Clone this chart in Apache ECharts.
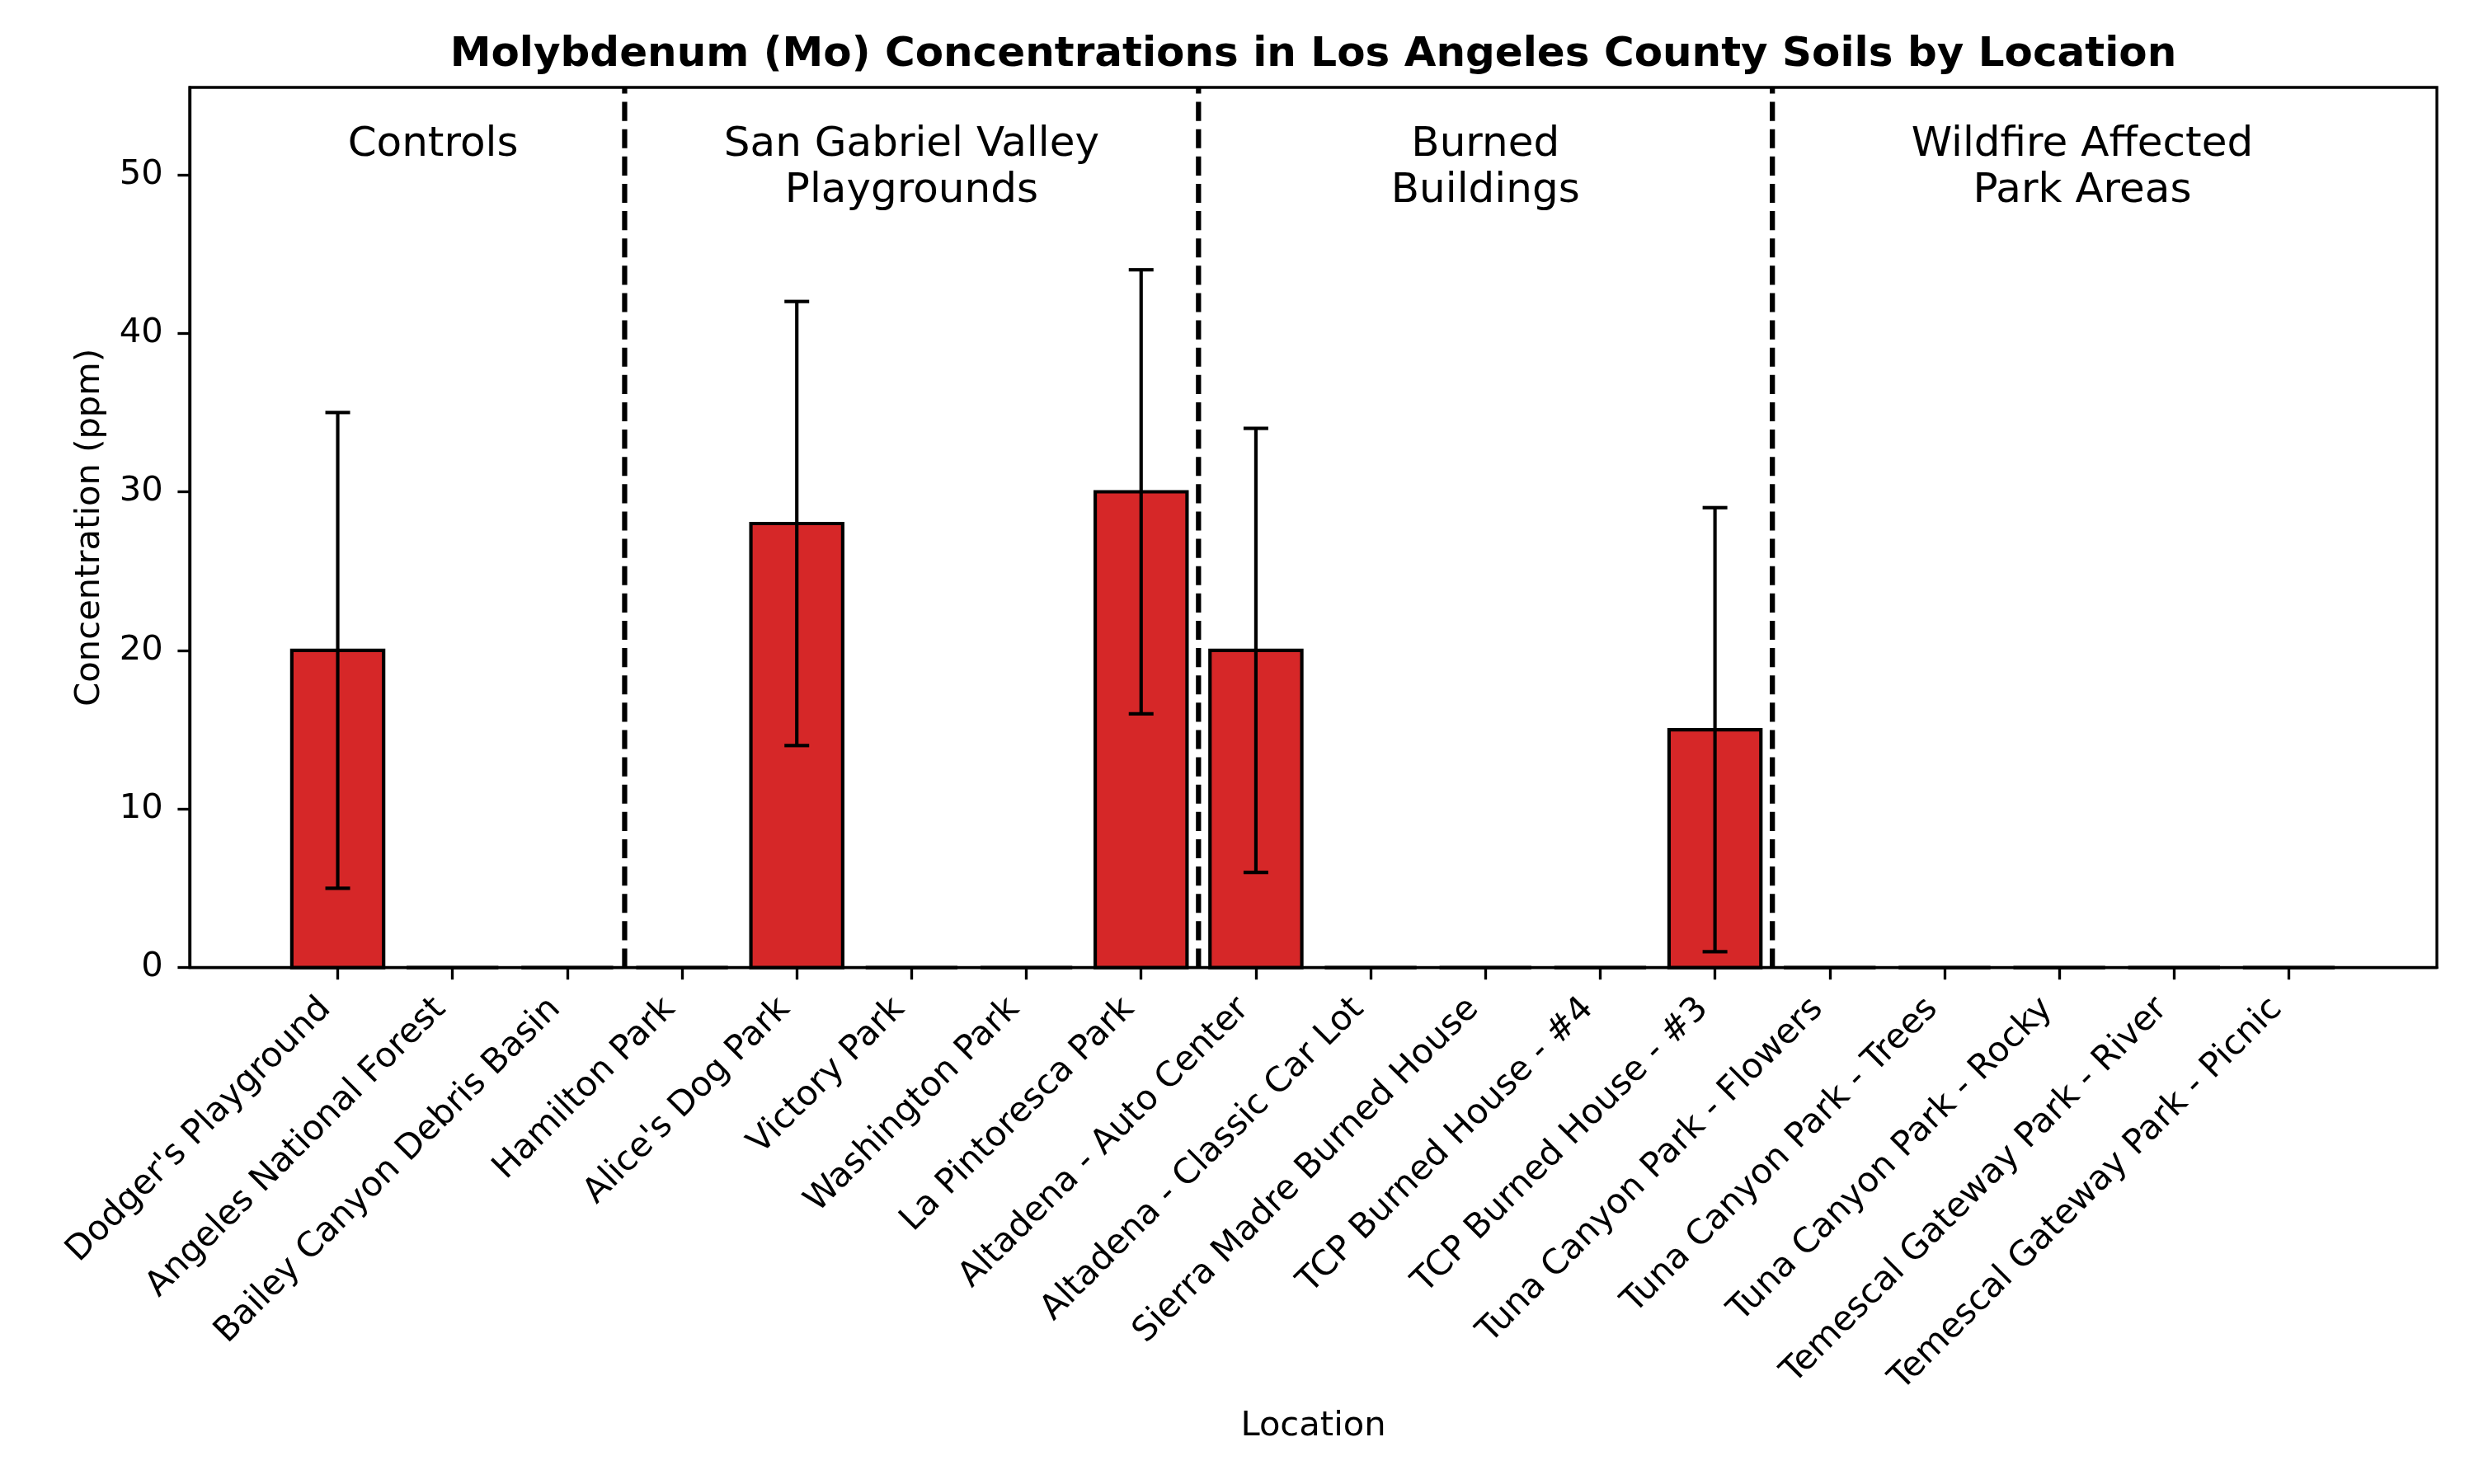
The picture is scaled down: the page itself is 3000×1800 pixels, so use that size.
<!DOCTYPE html>
<html>
<head>
<meta charset="utf-8">
<script src="https://cdn.jsdelivr.net/npm/echarts@6/dist/echarts.min.js"></script>
<style>
  html, body { margin: 0; padding: 0; background: #fff; }
  #chart { width: 3000px; height: 1800px; }
</style>
</head>
<body>
<div id="chart"></div>
<script>
// ---------------- data ----------------
const categories = [
  "Dodger's Playground", "Angeles National Forest", "Bailey Canyon Debris Basin",
  "Hamilton Park", "Alice's Dog Park", "Victory Park", "Washington Park",
  "La Pintoresca Park", "Altadena - Auto Center", "Altadena - Classic Car Lot",
  "Sierra Madre Burned House", "TCP Burned House - #4", "TCP Burned House - #3",
  "Tuna Canyon Park - Flowers", "Tuna Canyon Park - Trees", "Tuna Canyon Park - Rocky",
  "Temescal Gateway Park - River", "Temescal Gateway Park - Picnic"
];
const meanValues = [20, 0, 0, 0, 28, 0, 0, 30, 20, 0, 0, 0, 15, 0, 0, 0, 0, 0];
const errorValues = [15, 0, 0, 0, 14, 0, 0, 14, 14, 0, 0, 0, 14, 0, 0, 0, 0, 0];
const yTicks = [0, 10, 20, 30, 40, 50];
const groupNames = ["Controls", "San Gabriel Valley\nPlaygrounds", "Burned\nBuildings", "Wildfire Affected\nPark Areas"];
const groupLabelX = [0.83, 5, 10, 15.2];
const groupLabelY = 53.32;
const groupDividers = [2.5, 7.5, 12.5];

// ---------------- layout / style constants ----------------
const X_MIN = -1.29, X_MAX = 18.29;
const Y_MIN = 0, Y_MAX = 55.5;
const BAR_WIDTH = 0.8;
const FONT = "DejaVu Sans";
const PT = 300 / 72;

const xTickValues = categories.map((_, i) => i);

const chart = echarts.init(document.getElementById('chart'), null, { renderer: 'canvas', width: 3000, height: 1800 });

const option = {
  animation: false,
  backgroundColor: '#fff',
  title: {
    text: 'Molybdenum (Mo) Concentrations in Los Angeles County Soils by Location',
    left: 1592.5,
    textAlign: 'center',
    top: 41.8,
    padding: 0,
    textStyle: { fontFamily: FONT, fontSize: 12 * PT, fontWeight: 'bold', color: '#000', lineHeight: 50 }
  },
  grid: {
    left: 230, right: 45, top: 106, bottom: 626.4,
    show: true, borderColor: '#000', borderWidth: 0.8 * PT, backgroundColor: 'transparent'
  },
  xAxis: {
    type: 'value', min: X_MIN, max: X_MAX,
    name: 'Location', nameLocation: 'middle', nameGap: 535.7, nameMoveOverlap: false,
    nameTextStyle: { fontFamily: FONT, fontSize: 10 * PT, color: '#000', lineHeight: 42 },
    splitLine: { show: false },
    axisLine: { show: true, onZero: false, lineStyle: { color: '#000', width: 0.8 * PT } },
    axisTick: { show: true, customValues: xTickValues, length: 3.5 * PT, lineStyle: { color: '#000', width: 0.8 * PT } },
    axisLabel: {
      customValues: xTickValues,
      rotate: 45, margin: 29.2, padding: [0, 20.7, 0, 0],
      fontFamily: FONT, fontSize: 10 * PT, color: '#000',
      formatter: (v) => categories[Math.round(v)]
    }
  },
  yAxis: {
    type: 'value', min: Y_MIN, max: Y_MAX,
    name: 'Concentration (ppm)', nameLocation: 'middle', nameGap: 99.7, nameMoveOverlap: false,
    nameTextStyle: { fontFamily: FONT, fontSize: 10 * PT, color: '#000', lineHeight: 42 },
    splitLine: { show: false },
    axisLine: { show: true, onZero: false, lineStyle: { color: '#000', width: 0.8 * PT } },
    axisTick: { show: true, customValues: yTicks, length: 3.5 * PT, lineStyle: { color: '#000', width: 0.8 * PT } },
    axisLabel: {
      customValues: yTicks, margin: 32.3, padding: [5.6, 0, 0, 0],
      fontFamily: FONT, fontSize: 10 * PT, color: '#000'
    }
  },
  series: [
    {
      type: 'custom', name: 'bars', z: 2,
      data: meanValues.map((v, i) => [i, v]),
      renderItem: (params, api) => {
        const x = api.value(0), v = api.value(1);
        const p1 = api.coord([x - BAR_WIDTH / 2, v]);
        const p2 = api.coord([x + BAR_WIDTH / 2, 0]);
        return {
          type: 'rect',
          shape: { x: p1[0], y: p1[1], width: p2[0] - p1[0], height: p2[1] - p1[1] },
          style: { fill: '#d62728', stroke: '#000', lineWidth: 1 * PT }
        };
      }
    },
    {
      type: 'custom', name: 'errors', z: 3,
      data: meanValues.map((v, i) => [i, v, errorValues[i]]),
      renderItem: (params, api) => {
        const x = api.value(0), v = api.value(1), e = api.value(2);
        if (!e) return null;
        const top = api.coord([x, v + e]);
        const bot = api.coord([x, v - e]);
        const cap = 15;
        const st = { stroke: '#000', lineWidth: 1 * PT };
        return {
          type: 'group',
          children: [
            { type: 'line', shape: { x1: top[0], y1: top[1], x2: bot[0], y2: bot[1] }, style: st },
            { type: 'line', shape: { x1: top[0] - cap, y1: top[1], x2: top[0] + cap, y2: top[1] }, style: st },
            { type: 'line', shape: { x1: bot[0] - cap, y1: bot[1], x2: bot[0] + cap, y2: bot[1] }, style: st }
          ]
        };
      }
    },
    {
      type: 'custom', name: 'dividers', z: 4,
      data: groupDividers.map(x => [x, 0]),
      renderItem: (params, api) => {
        const x = api.value(0);
        const b = api.coord([x, Y_MIN]);
        const t = api.coord([x, Y_MAX]);
        return {
          type: 'line',
          shape: { x1: b[0], y1: b[1], x2: t[0], y2: t[1] },
          style: { stroke: '#000', lineWidth: 1.5 * PT, lineDash: [5.55 * PT, 2.4 * PT] }
        };
      }
    },
    {
      type: 'custom', name: 'groups', z: 5, clip: false,
      data: groupLabelX.map((x, i) => [x, groupLabelY, i]),
      renderItem: (params, api) => {
        const p = api.coord([api.value(0), api.value(1)]);
        return {
          type: 'text', x: p[0], y: p[1],
          style: {
            text: groupNames[api.value(2)],
            fontFamily: FONT, fontSize: 12 * PT, lineHeight: 56.2,
            fill: '#000', align: 'center', verticalAlign: 'top'
          }
        };
      }
    }
  ]
};
chart.setOption(option);
</script>
</body>
</html>
